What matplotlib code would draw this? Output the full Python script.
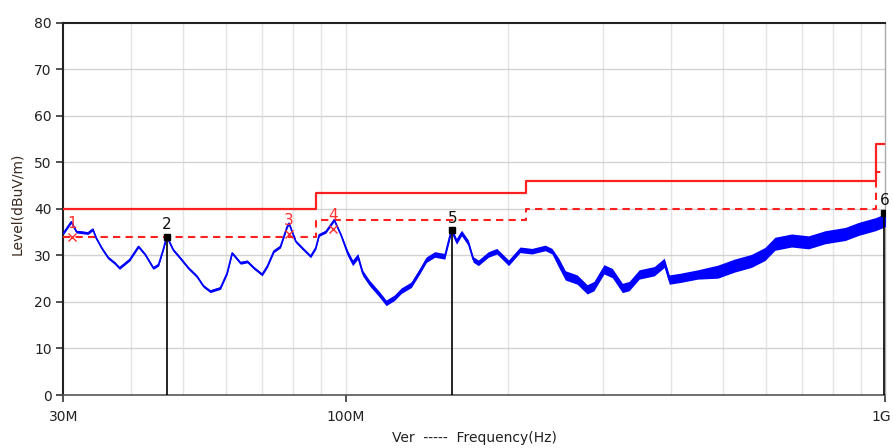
import numpy as np
import matplotlib
matplotlib.use("Agg")
import matplotlib.pyplot as plt
from matplotlib.ticker import FixedLocator, NullFormatter
from matplotlib.transforms import ScaledTranslation

# ---- data ----
freq_mhz = [30.0, 31.0, 31.7, 33.3, 34.0, 34.5, 35.3, 36.3, 37.3, 38.1, 39.8, 41.3, 42.5, 44.0, 45.0,
            45.9, 46.6, 47.9, 49.3, 51.1, 53.0, 54.5, 56.1, 58.6, 60.3, 61.6, 63.8, 65.7, 67.6, 70.0,
            71.6, 73.6, 75.7, 77.9, 78.5, 80.8, 83.7, 86.1, 88.0, 89.3, 91.9, 95.2, 98.0, 100.8, 103.0,
            105.3, 107.5, 110.6, 115.5, 118.8, 123.1, 126.7, 132.3, 137.1, 141.1, 146.2, 152.6, 154.8,
            157.0, 160.4, 163.9, 168.7, 172.3, 176.1, 183.8, 190.5, 200.3, 210.4, 221.3, 234.2, 241.1,
            248.1, 255.2, 268.4, 280.1, 288.3, 300.9, 311.8, 325.5, 335.0, 349.7, 372.9, 389.2, 397.6,
            417.9, 448.9, 489.0, 525.0, 564.0, 598.0, 624.0, 670.0, 720.0, 773.0, 842.0, 892.0, 958.0,
            1000.0]
level_db = [34.8, 37.2, 35.1, 34.8, 35.6, 33.7, 31.6, 29.5, 28.4, 27.3, 29.1, 31.9, 30.2, 27.3, 28.0,
            31.2, 34.1, 31.2, 29.5, 27.3, 25.5, 23.4, 22.3, 23.0, 26.2, 30.5, 28.4, 28.7, 27.3, 25.9,
            27.7, 30.9, 31.9, 36.2, 36.9, 33.0, 31.2, 29.8, 31.6, 34.4, 35.1, 37.6, 34.4, 30.5, 28.4,
            29.8, 26.2, 24.1, 21.6, 19.8, 20.9, 22.4, 23.7, 26.6, 29.1, 30.2, 29.8, 32.7,
            35.5, 33.0, 34.8, 32.7, 29.1, 28.4, 30.2, 30.9, 28.4, 31.2, 30.9, 31.6, 30.9,
            28.4, 25.7, 24.8, 22.7, 23.4, 27.0, 26.2, 23.0, 23.4, 25.9, 26.6, 28.4, 24.8,
            25.2, 25.9, 26.5, 27.8, 28.8, 30.3, 32.5, 33.2, 32.8, 33.9, 34.6, 35.7, 36.7,
            37.6]
# half-thickness of the noisy trace band (dB)
band_db = [0.3] * 43 + [0.6] * 28 + [1.0] * 15 + [1.4] * 12

limit_f = [30, 88, 88, 216, 216, 960, 960, 1000]
limit_qp = [40, 40, 43.5, 43.5, 46, 46, 54, 54]
limit_margin = [34, 34, 37.5, 37.5, 40, 40, 48, 48]

red_mark_f = [31.1, 78.5, 94.9]
red_mark_lv = [34.0, 34.6, 35.7]
red_mark_lab = ["1", "3", "4"]
blk_mark_f = [46.6, 157.6, 995.0]
blk_mark_lv = [34.0, 35.4, 39.1]
blk_mark_lab = ["2", "5", "6"]

yticks = [0, 10, 20, 30, 40, 50, 60, 70, 80]
xticks = [30, 100, 1000]
xticklabels = ["30M", "100M", "1G"]

# ---- figure ----
fig = plt.figure(figsize=(8.93, 4.48), dpi=100)
ax = fig.add_axes([0.0711, 0.1183, 0.9205, 0.831])
ax.set_xscale("log")
ax.set_xlim(30, 1000)
ax.set_ylim(0, 80)

minor = [m * d for d in (10, 100) for m in range(2, 10)]
minor = [v for v in minor if 30 < v < 1000 and v != 100]
ax.xaxis.set_major_locator(FixedLocator(xticks))
ax.xaxis.set_minor_locator(FixedLocator(minor))
ax.xaxis.set_minor_formatter(NullFormatter())
ax.set_xticklabels(xticklabels)
ax.set_yticks(yticks)

for v in minor + [100]:
    ax.axvline(v, color="#e4e4e4", lw=1.0, zorder=0)
for v in yticks[1:-1]:
    ax.axhline(v, color="#d2d2d2", lw=1.0, zorder=0)

ax.tick_params(axis="both", which="major", labelsize=10, labelcolor="#222222",
               direction="out", length=5, width=1.2, color="#333333")
ax.tick_params(axis="x", which="minor", length=0)
ax.tick_params(axis="x", which="major", pad=6)

# keep the "1G" label inside the figure
lab_1g = ax.get_xticklabels()[-1]
lab_1g.set_transform(lab_1g.get_transform() + ScaledTranslation(-4 / 100, 0, fig.dpi_scale_trans))

for s in ("left", "top"):
    ax.spines[s].set_color("#222222")
    ax.spines[s].set_linewidth(1.5)
ax.spines["bottom"].set_color("#555555")
ax.spines["bottom"].set_linewidth(1.2)
ax.spines["right"].set_color("#aaaaaa")
ax.spines["right"].set_linewidth(1.0)

# limits
ax.plot(limit_f, limit_qp, color="#ff2020", lw=1.6, zorder=3)
ax.plot(limit_f, limit_margin, color="#ff2020", lw=1.5, ls=(0, (3.5, 2.5)), zorder=3)

# trace
f = np.array(freq_mhz)
lv = np.array(level_db)
bw = np.array(band_db)
ax.fill_between(f, lv - bw, lv + bw, color="#0000ff", lw=0, zorder=4)
ax.plot(f, lv, color="#0000ff", lw=1.2, zorder=4)

# markers
for fx, y, lab in zip(red_mark_f, red_mark_lv, red_mark_lab):
    ax.plot([fx], [y], marker="x", color="#ff3030", ms=6, mew=1.0, zorder=6)
    ax.text(fx, y + 1.2, lab, color="#ff3030", fontsize=11, ha="center", va="bottom", zorder=6)
for fx, y, lab in zip(blk_mark_f, blk_mark_lv, blk_mark_lab):
    ax.plot([fx, fx], [0, y], color="black", lw=1.2, zorder=5)
    ax.plot([fx], [y], marker="s", color="black", ms=5, zorder=6)
    ax.text(fx, y + 1.0, lab, color="#111111", fontsize=11, ha="center", va="bottom", zorder=6)

fig.text(0.0196, 0.545, "Level(dBuV/m)", rotation=90, ha="center", va="center",
         fontsize=10, color="#3a2a20")
fig.text(0.531, 0.022, "Ver  -----  Frequency(Hz)", ha="center", va="center",
         fontsize=10, color="#222222")

fig.savefig("out.png", dpi=100)
